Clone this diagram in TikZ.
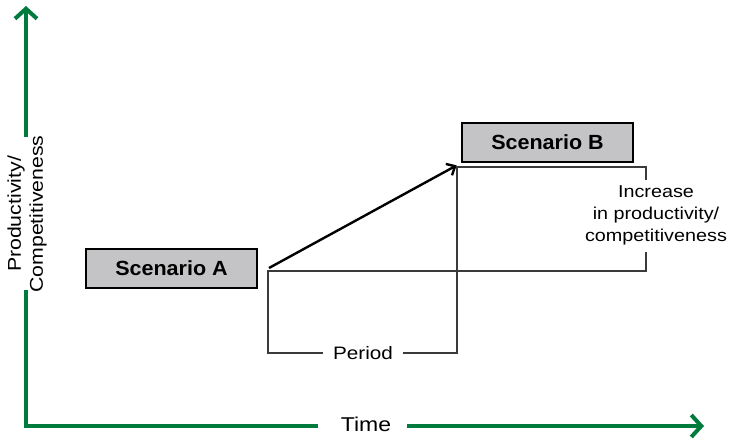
\documentclass[tikz,border=0pt]{standalone}
\usepackage{fontspec}
\setmainfont{Liberation Sans}[FakeStretch=1.15,BoldFeatures={FakeStretch=1.05}]
\usetikzlibrary{arrows.meta}
\definecolor{axisgreen}{HTML}{007A3D}
\definecolor{boxgray}{HTML}{C4C4C6}
\definecolor{brk}{HTML}{3A3A3A}
\begin{document}
\begin{tikzpicture}[x=1pt,y=-1pt,
  scen/.style={draw=black,line width=2pt,fill=boxgray,minimum width=171pt,minimum height=39pt,inner sep=0pt,font=\fontsize{20.5}{24}\selectfont\bfseries},
  lbl/.style={inner sep=0pt,font=\fontsize{17.2}{22}\selectfont,align=center},
  axis/.style={draw=axisgreen,line width=4pt},
  brack/.style={draw=brk,line width=1.1pt}]
\useasboundingbox (0,0) rectangle (732,440);
% axes
\coordinate (top) at (26,6);
\coordinate (orig) at (26,426);
\coordinate (right) at (704,426);
\coordinate (yg1) at (26,137);
\coordinate (yg2) at (26,290);
\coordinate (xg1) at (318,426);
\coordinate (xg2) at (407,426);
\draw[axis,-{Straight Barb[length=10pt,width=22pt]}] (yg1) -- (top);
\draw[axis] (yg2) -- (orig) -- (xg1);
\draw[axis,-{Straight Barb[length=10pt,width=22pt]}] (xg2) -- (right);
\node[lbl,rotate=90,font=\fontsize{18.5}{22}\selectfont] (ylab) at (27,214) {Productivity/\\Competitiveness};
\node[lbl,font=\fontsize{20}{24}\selectfont] (xlab) at (366,424) {Time};
% scenarios
\node[scen] (A) at (171.5,268.5) {Scenario A};
\node[scen] (B) at (547.5,142.5) {Scenario B};
\coordinate (s) at (269,268);
\draw[line width=2.4pt,-{Straight Barb[length=7pt,width=13pt]},shorten >=5pt] (s) -- (B.south west);
% brackets
\coordinate (p1) at (268,271);
\coordinate (p2) at (646,271);
\coordinate (p3) at (646,252);
\coordinate (p4) at (646,180);
\coordinate (p5) at (646,167);
\coordinate (p6) at (457,167);
\coordinate (p7) at (457,353);
\coordinate (p8) at (403,353);
\coordinate (p9) at (323,353);
\coordinate (p10) at (268,353);
\draw[brack] (p4) -- (p5) -- (p6) -- (p7) -- (p8);
\draw[brack] (p9) -- (p10) -- (p1) -- (p2) -- (p3);
\node[lbl,font=\fontsize{18}{22}\selectfont] (per) at (363,353) {Period};
\node[lbl] (inc) at (656,215) {Increase\\in productivity/\\competitiveness};
\end{tikzpicture}
\end{document}
